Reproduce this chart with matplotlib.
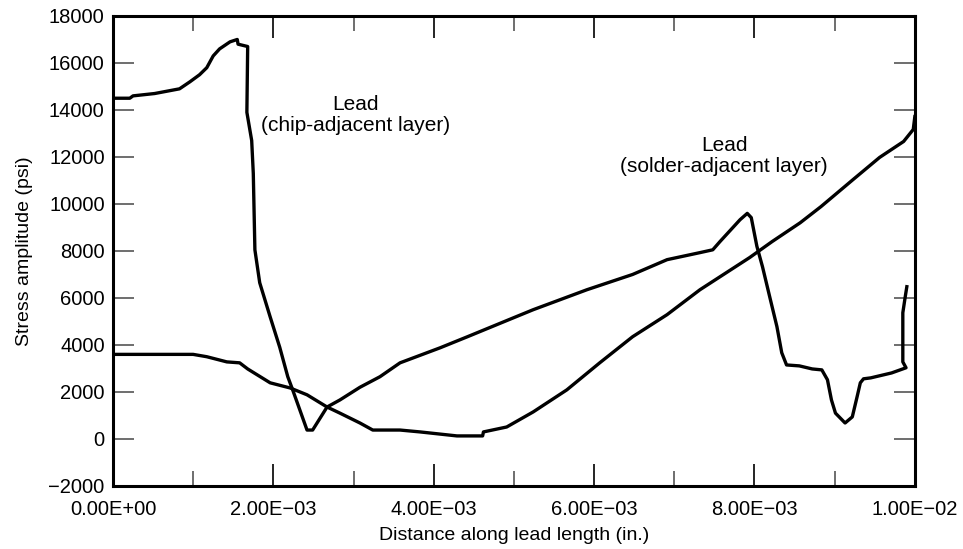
import matplotlib
matplotlib.use("Agg")
import matplotlib.pyplot as plt
from matplotlib.ticker import FixedLocator, FuncFormatter

plt.rcParams['font.family'] = ['Liberation Sans', 'DejaVu Sans']

# Lead, chip-adjacent layer
chip_x = [0.0, 0.00021, 0.00025, 0.00052, 0.00083, 0.00096, 0.00108, 0.00117, 0.00125,
          0.00133, 0.00146, 0.00155, 0.00156, 0.00168, 0.00167, 0.00173, 0.00175,
          0.00177, 0.00183, 0.00196, 0.00208, 0.00218, 0.00224, 0.00233, 0.00242,
          0.00249, 0.00267, 0.00283, 0.00308, 0.00333, 0.00358, 0.00408, 0.00442,
          0.00499, 0.00524, 0.00591, 0.00648, 0.00691, 0.00732, 0.00748, 0.00757,
          0.00782, 0.00791, 0.00796, 0.00803, 0.00810, 0.00819, 0.00828, 0.00834,
          0.00840, 0.00856, 0.00872, 0.00884, 0.00891, 0.00896, 0.00901, 0.00913,
          0.00922, 0.00928, 0.00932, 0.00936, 0.00945, 0.00971, 0.00989, 0.00985,
          0.00985, 0.00988, 0.00990]
chip_y = [14500, 14500, 14600, 14700, 14900, 15200, 15500, 15800, 16300,
          16600, 16900, 17000, 16800, 16700, 13900, 12700, 11300,
          8050, 6650, 5200, 3900, 2650, 2100, 1240, 380,
          380, 1360, 1660, 2200, 2650, 3240, 3880, 4350,
          5150, 5500, 6350, 7000, 7630, 7930, 8050, 8400,
          9330, 9600, 9420, 8200, 7330, 6050, 4780, 3670,
          3150, 3110, 2980, 2940, 2520, 1660, 1100, 680,
          940, 1800, 2390, 2560, 2600, 2810, 3030, 3280,
          5370, 6050, 6480]

# Lead, solder-adjacent layer
solder_x = [0.0, 0.00100, 0.00117, 0.00142, 0.00158, 0.00168, 0.00196, 0.00221,
            0.00242, 0.00267, 0.00283, 0.00308, 0.00324, 0.00358, 0.00383,
            0.00429, 0.00461, 0.00462, 0.00491, 0.00524, 0.00566, 0.00607,
            0.00648, 0.00691, 0.00732, 0.00794, 0.00822, 0.00857, 0.00883,
            0.00923, 0.00956, 0.00986, 0.00998, 0.01000]
solder_y = [3600, 3600, 3500, 3280, 3240, 2980, 2390, 2170,
            1880, 1360, 1100, 680, 380, 380, 300,
            130, 130, 300, 510, 1150, 2090, 3240,
            4350, 5290, 6350, 7720, 8400, 9200, 9890,
            11040, 11980, 12660, 13170, 13720]

x_ticks = [0.0, 0.002, 0.004, 0.006, 0.008, 0.010]
x_minor = [0.001, 0.003, 0.005, 0.007, 0.009]
y_ticks = [-2000, 0, 2000, 4000, 6000, 8000, 10000, 12000, 14000, 16000, 18000]

fig = plt.figure(figsize=(9.63, 5.49), dpi=100)
ax = fig.add_axes([0.1173, 0.1148, 0.8327, 0.8561])

ax.plot(chip_x, chip_y, color='black', lw=2.4, solid_joinstyle='round')
ax.plot(solder_x, solder_y, color='black', lw=2.4, solid_joinstyle='round')

ax.set_xlim(0, 0.010)
ax.set_ylim(-2000, 18000)

def xfmt(v, pos):
    s = f"{v:.2E}"
    return s.replace('-', '\u2212')

def yfmt(v, pos):
    return f"{int(v)}".replace('-', '\u2212')

ax.xaxis.set_major_locator(FixedLocator(x_ticks))
ax.xaxis.set_minor_locator(FixedLocator(x_minor))
ax.yaxis.set_major_locator(FixedLocator(y_ticks))
ax.xaxis.set_major_formatter(FuncFormatter(xfmt))
ax.yaxis.set_major_formatter(FuncFormatter(yfmt))

ax.tick_params(axis='x', which='major', direction='in', length=16, width=1.2,
               color='black', top=True, labelsize=14.5, pad=10)
ax.tick_params(axis='x', which='minor', direction='in', length=11, width=1.2,
               color='#555555', top=True)
ax.tick_params(axis='y', which='major', direction='in', length=15, width=1.2,
               color='#555555', right=True, labelsize=14.5, pad=6)

for s in ax.spines.values():
    s.set_linewidth(2.2)

ax.set_xlabel('Distance along lead length (in.)', fontsize=14, labelpad=6)
ax.set_ylabel('Stress amplitude (psi)', fontsize=14, labelpad=11)

ax.text(0.00303, 13800, 'Lead\n(chip-adjacent layer)', ha='center', va='center',
        fontsize=15, linespacing=1.15)
ax.text(0.00762, 12050, 'Lead\n(solder-adjacent layer)', ha='center', va='center',
        fontsize=15, linespacing=1.15)

fig.savefig('out.png', dpi=100)
